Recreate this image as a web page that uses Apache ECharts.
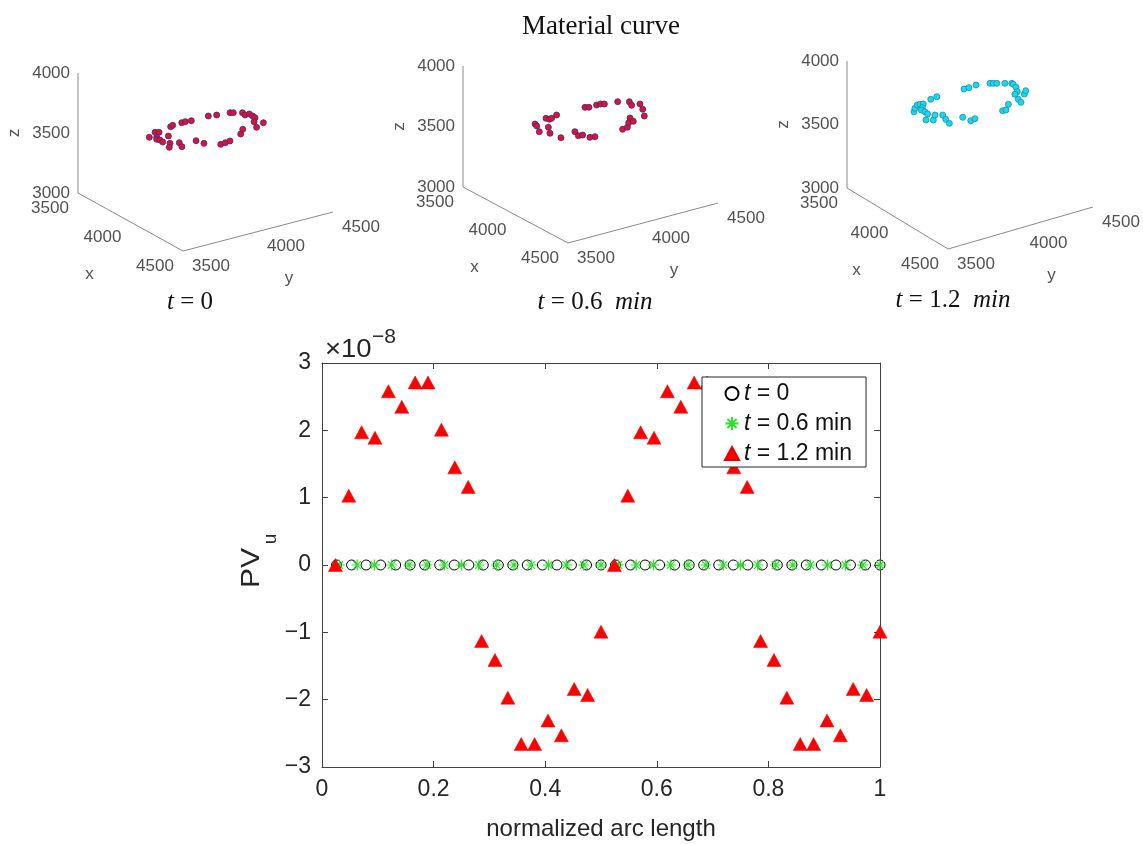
<!DOCTYPE html>
<html><head><meta charset="utf-8">
<script src="https://cdn.jsdelivr.net/npm/echarts@6/dist/echarts.min.js"></script>
<style>html,body{margin:0;padding:0;background:#fff}#c{width:1143px;height:844px}</style>
</head><body><div id="c"></div>
<script>
// ---------- main chart data (PV_u in units of 1e-8) ----------
const arcLen12 = [0.024,0.048,0.071,0.095,0.119,0.143,0.167,0.190,0.214,0.238,0.262,0.286,0.310,0.333,0.357,0.381,0.405,0.429,0.452,0.476,0.500,
                  0.524,0.548,0.571,0.595,0.619,0.643,0.667,0.690,0.714,0.738,0.762,0.786,0.810,0.833,0.857,0.881,0.905,0.929,0.952,0.976,1.000];
const pv12 = [0,1.03,1.97,1.89,2.58,2.35,2.71,2.71,2.01,1.45,1.16,-1.13,-1.41,-1.97,-2.66,-2.66,-2.31,-2.53,-1.84,-1.93,-0.99,
              0,1.03,1.97,1.89,2.58,2.35,2.71,2.71,2.01,1.45,1.16,-1.13,-1.41,-1.97,-2.66,-2.66,-2.31,-2.53,-1.84,-1.93,-0.99];
const arcLen0 = [0.026,0.053,0.079,0.105,0.132,0.158,0.184,0.211,0.237,0.263,0.289,0.316,0.342,0.368,0.395,0.421,0.447,0.474,0.500,
                 0.526,0.553,0.579,0.605,0.632,0.658,0.684,0.711,0.737,0.763,0.789,0.816,0.842,0.868,0.895,0.921,0.947,0.974,1.000];
const pv0 = [0,0,0,0,0,0,0,0,0,0,0,0,0,0,0,0,0,0,0,0,0,0,0,0,0,0,0,0,0,0,0,0,0,0,0,0,0,0];
const arcLen06 = [0.031,0.063,0.094,0.125,0.156,0.188,0.219,0.250,0.281,0.313,0.344,0.375,0.406,0.438,0.469,0.500,
                  0.531,0.563,0.594,0.625,0.656,0.688,0.719,0.750,0.781,0.813,0.844,0.875,0.906,0.938,0.969,1.000];
const pv06 = [0,0,0,0,0,0,0,0,0,0,0,0,0,0,0,0,0,0,0,0,0,0,0,0,0,0,0,0,0,0,0,0];
const seriesNames = ['t = 0', 't = 0.6 min', 't = 1.2 min'];
const xTicksMain = [0, 0.2, 0.4, 0.6, 0.8, 1];
const yTicksMain = [-3, -2, -1, 0, 1, 2, 3];
const pvExponent = '−8';

// ---------- 3D material curve data ----------
const curve0x = [3768,3727,3739,3791,3814,3832,3864,3811,3902,3946,3708,3699,3922,3977,3695,3694,3701,3950,4005,3698,3712,4068,4062,4057,3725,3735,4008,3959,3763,3798,3799,3833,3860,3904,3978,3944];
const curve0y = [3788,3855,3873,3821,3805,3814,3810,3885,3832,3796,3972,3992,3880,3859,4055,4080,4115,3972,3986,4230,4276,4054,4089,4123,4356,4371,4229,4277,4412,4405,4433,4431,4428,4391,4356,4425];
const curve0z = [3500,3500,3500,3500,3500,3500,3500,3500,3500,3500,3500,3500,3500,3500,3500,3500,3500,3500,3500,3500,3500,3500,3500,3500,3500,3500,3500,3500,3500,3500,3500,3500,3500,3500,3500,3500];
const curve06x = [3699,3728,3804,3666,3780,3688,3684,3857,3660,3944,3917,3976,3981,3659,3671,4032,4040,3668,3669,3681,3696,4040,4031,3733,3929,3783,3981,3979,3794,3866,3951];
const curve06y = [3841,3832,3796,3937,3873,3944,3962,3830,4012,3842,3954,3936,3961,4202,4220,3974,4002,4273,4299,4316,4394,4186,4224,4446,4313,4426,4268,4300,4474,4442,4393];
const curve06z = [3500,3500,3500,3500,3500,3500,3500,3500,3500,3500,3500,3500,3500,3500,3500,3500,3500,3500,3500,3500,3500,3500,3500,3500,3500,3500,3500,3500,3500,3500,3500];
const curve12x = [3714,3679,3650,3651,3658,3696,3719,3749,3783,3844,3868,3818,3630,3621,3843,3900,3956,3932,3623,3624,3617,3996,3987,3643,3654,3665,3691,3713,3729,3771,3824,3845,3911,3953,3872,3840,3987,3990,3935];
const curve12y = [3813,3844,3880,3898,3916,3883,3860,3864,3859,3805,3839,3885,3987,4035,3921,3902,3888,3997,4221,4255,4308,4008,4043,4387,4402,4418,4456,4488,4487,4477,4449,4418,4395,4384,4464,4496,4234,4255,4310];
const curve12z = [3600,3600,3600,3600,3600,3600,3600,3600,3600,3600,3600,3600,3600,3600,3600,3600,3600,3600,3600,3600,3600,3600,3600,3600,3600,3600,3600,3600,3600,3600,3600,3600,3600,3600,3600,3600,3600,3600,3600];
const xyTicks3d = [3500, 4000, 4500];
const zTicks3d = [3000, 3500, 4000];
const timeValues = ['0', '0.6', '1.2'];
const timeUnits = ['', 'min', 'min'];

// ---------- layout / style ----------
const SANS = 'Liberation Sans', SERIF = 'Liberation Serif';
const TXT = '#262626';
const panels = [
  {o:[78,193],  ex:[105,58], ey:[150,-39], ez:[0,-120], tx:190, ty:302, fill:'#e3122b', edge:'#2b2f9a', xs:curve0x,  ys:curve0y,  zs:curve0z},
  {o:[463,187], ex:[105,56], ey:[150,-40], ez:[0,-121], tx:595, ty:302, fill:'#e3122b', edge:'#2b2f9a', xs:curve06x, ys:curve06y, zs:curve06z},
  {o:[847,188], ex:[101,61], ey:[145,-42], ez:[0,-127], tx:953, ty:300, fill:'#1ed6ee', edge:'#17909f', xs:curve12x, ys:curve12y, zs:curve12z}
];
const XMIN = xyTicks3d[0], XMAX = xyTicks3d[2], ZMIN = zTicks3d[0], ZMAX = zTicks3d[2];
function proj(p, x, y, z) {
  const a = (x - XMIN) / (XMAX - XMIN), b = (y - XMIN) / (XMAX - XMIN), c = (z - ZMIN) / (ZMAX - ZMIN);
  return [p.o[0] + a*p.ex[0] + b*p.ey[0] + c*p.ez[0], p.o[1] + a*p.ex[1] + b*p.ey[1] + c*p.ez[1]];
}

const series = [];
const zip = (a, b) => a.map((v, i) => [v, b[i]]);
series.push({
  name: seriesNames[0], type: 'scatter', xAxisIndex: 0, yAxisIndex: 0, data: zip(arcLen0, pv0),
  symbol: 'circle', symbolSize: 10,
  itemStyle: {color: 'rgba(255,255,255,0)', borderColor: '#000', borderWidth: 1, opacity: 1}
});
series.push({
  name: seriesNames[1], type: 'scatter', xAxisIndex: 0, yAxisIndex: 0, data: zip(arcLen06, pv06),
  symbol: 'path://M5,0L5,10M0,5L10,5M1.5,1.5L8.5,8.5M8.5,1.5L1.5,8.5', symbolSize: 11,
  itemStyle: {color: 'rgba(0,0,0,0)', borderColor: '#2ee02e', borderWidth: 1.2, opacity: 1}
});
series.push({
  name: seriesNames[2], type: 'scatter', xAxisIndex: 0, yAxisIndex: 0, data: zip(arcLen12, pv12),
  symbol: 'triangle', symbolSize: [14, 13],
  itemStyle: {color: '#ff0000', borderColor: '#e00000', borderWidth: 0.5, opacity: 1}
});

const tickLabelStyle = {show: true, color: TXT, fontFamily: SANS, fontSize: 17};
panels.forEach((p, pi) => {
  const axisSegs = [
    [[XMIN, XMIN, ZMIN], [XMAX, XMIN, ZMIN]],
    [[XMAX, XMIN, ZMIN], [XMAX, XMAX, ZMIN]],
    [[XMIN, XMIN, ZMIN], [XMIN, XMIN, ZMAX]]
  ];
  axisSegs.forEach(seg => {
    series.push({type: 'line', xAxisIndex: 2, yAxisIndex: 2, silent: true, symbol: 'none',
      data: seg.map(s => proj(p, s[0], s[1], s[2])), lineStyle: {color: '#8a8a8a', width: 1}, z: 1});
  });
  series.push({type: 'scatter', xAxisIndex: 2, yAxisIndex: 2, silent: true, symbolSize: 0,
    data: zTicks3d.map(t => proj(p, XMIN, XMIN, t).concat([String(t)])),
    label: Object.assign({position: 'left', distance: 8, formatter: d => d.value[2]}, tickLabelStyle)});
  series.push({type: 'scatter', xAxisIndex: 2, yAxisIndex: 2, silent: true, symbolSize: 0,
    data: xyTicks3d.map(t => proj(p, t, XMIN, ZMIN).concat([String(t)])),
    label: Object.assign({position: 'inside', offset: [-28, 15], formatter: d => d.value[2]}, tickLabelStyle)});
  series.push({type: 'scatter', xAxisIndex: 2, yAxisIndex: 2, silent: true, symbolSize: 0,
    data: xyTicks3d.map(t => proj(p, XMAX, t, ZMIN).concat([String(t)])),
    label: Object.assign({position: 'inside', offset: [28, 15], formatter: d => d.value[2]}, tickLabelStyle)});
  const mid = (XMIN + XMAX) / 2, zmid = (ZMIN + ZMAX) / 2;
  series.push({type: 'scatter', xAxisIndex: 2, yAxisIndex: 2, silent: true, symbolSize: 0,
    data: [proj(p, mid, XMIN, ZMIN).concat(['x'])],
    label: Object.assign({position: 'inside', offset: [-41, 52], formatter: d => d.value[2]}, tickLabelStyle)});
  series.push({type: 'scatter', xAxisIndex: 2, yAxisIndex: 2, silent: true, symbolSize: 0,
    data: [proj(p, XMAX, mid, ZMIN).concat(['y'])],
    label: Object.assign({position: 'inside', offset: [31, 47], formatter: d => d.value[2]}, tickLabelStyle)});
  series.push({type: 'scatter', xAxisIndex: 2, yAxisIndex: 2, silent: true, symbolSize: 0,
    data: [proj(p, XMIN, XMIN, zmid).concat(['z'])],
    label: Object.assign({position: 'inside', offset: [0, -64], rotate: 90, formatter: d => d.value[2]}, tickLabelStyle)});
  series.push({type: 'scatter', xAxisIndex: 2, yAxisIndex: 2, silent: true, symbol: 'circle', symbolSize: 6,
    data: p.xs.map((x, i) => proj(p, x, p.ys[i], p.zs[i])),
    itemStyle: {color: p.fill, borderColor: p.edge, borderWidth: 0.8, opacity: 1}, z: 3});
});

const graphic = [];
panels.forEach((p, pi) => {
  graphic.push({type: 'text', x: p.tx, y: p.ty, silent: true,
    style: {text: '{i|t} = ' + timeValues[pi] + (timeUnits[pi] ? '\u2002{i|' + timeUnits[pi] + '}' : ''),
      fontFamily: SERIF, fontSize: 25, fill: '#111', align: 'center', verticalAlign: 'middle',
      rich: {i: {fontStyle: 'italic', fontFamily: SERIF, fontSize: 25}}}});
});
graphic.push({type: 'text', x: 325, y: 350, silent: true, scaleX: 1.1,
  style: {text: '×10', fontFamily: SANS, fontSize: 25, fill: TXT, align: 'left', verticalAlign: 'middle'}});
graphic.push({type: 'text', x: 372, y: 337, silent: true,
  style: {text: pvExponent, fontFamily: SANS, fontSize: 21, fill: TXT, align: 'left', verticalAlign: 'middle'}});
graphic.push({type: 'text', x: 252, y: 568, rotation: Math.PI/2, scaleX: 1.2, silent: true,
  style: {text: 'PV', fontFamily: SANS, fontSize: 25, fill: TXT, align: 'center', verticalAlign: 'middle'}});
graphic.push({type: 'text', x: 271, y: 539, rotation: Math.PI/2, silent: true,
  style: {text: 'u', fontFamily: SANS, fontSize: 19, fill: TXT, align: 'center', verticalAlign: 'middle'}});

const fmtTick = v => (v < 0 ? '−' + (-v) : String(+v.toFixed(1)));
const axisLine = {show: true, onZero: false, lineStyle: {color: '#404040', width: 1}};
const tick = {show: true, inside: true, length: 6, lineStyle: {color: '#404040', width: 1}};

const option = {
  animation: false,
  backgroundColor: '#fff',
  title: {text: 'Material curve', left: 596, top: 8, textAlign: 'center',
    textStyle: {fontFamily: SERIF, fontSize: 27, fontWeight: 'normal', color: '#111'}},
  grid: [
    {left: 322, top: 363, width: 558, height: 404, containLabel: false},
    {left: 0, top: 0, width: 1143, height: 844, containLabel: false}
  ],
  xAxis: [
    {type: 'value', gridIndex: 0, position: 'bottom', min: xTicksMain[0], max: xTicksMain[xTicksMain.length-1], interval: 0.2,
     axisLine, axisTick: tick, splitLine: {show: false},
     axisLabel: {color: TXT, fontFamily: SANS, fontSize: 23, margin: 11, formatter: fmtTick},
     name: 'normalized arc length', nameLocation: 'middle', nameGap: 50,
     nameTextStyle: {color: TXT, fontFamily: SANS, fontSize: 24}},
    {type: 'value', gridIndex: 0, position: 'top', min: 0, max: 1, interval: 0.2,
     axisLine, axisTick: tick, axisLabel: {show: false}, splitLine: {show: false}},
    {type: 'value', gridIndex: 1, min: 0, max: 1143, show: false}
  ],
  yAxis: [
    {type: 'value', gridIndex: 0, position: 'left', min: yTicksMain[0], max: yTicksMain[yTicksMain.length-1], interval: 1,
     axisLine, axisTick: tick, splitLine: {show: false},
     axisLabel: {color: TXT, fontFamily: SANS, fontSize: 23, margin: 11, formatter: fmtTick}},
    {type: 'value', gridIndex: 0, position: 'right', min: -3, max: 3, interval: 1,
     axisLine, axisTick: tick, axisLabel: {show: false}, splitLine: {show: false}},
    {type: 'value', gridIndex: 1, min: 0, max: 844, inverse: true, show: false}
  ],
  legend: {
    data: seriesNames, orient: 'vertical', left: 702, top: 377,
    padding: [5, 14, 2, 22], itemGap: 7, itemWidth: 14, itemHeight: 13,
    backgroundColor: '#fff', borderColor: '#262626', borderWidth: 1, borderRadius: 0,
    formatter: n => '{i|t}' + n.slice(1),
    textStyle: {color: '#111', fontFamily: SANS, fontSize: 23, lineHeight: 20,
      rich: {i: {fontStyle: 'italic', fontFamily: SANS, fontSize: 23}}}
  },
  graphic,
  series
};
const chart = echarts.init(document.getElementById('c'));
chart.setOption(option);
</script></body></html>
